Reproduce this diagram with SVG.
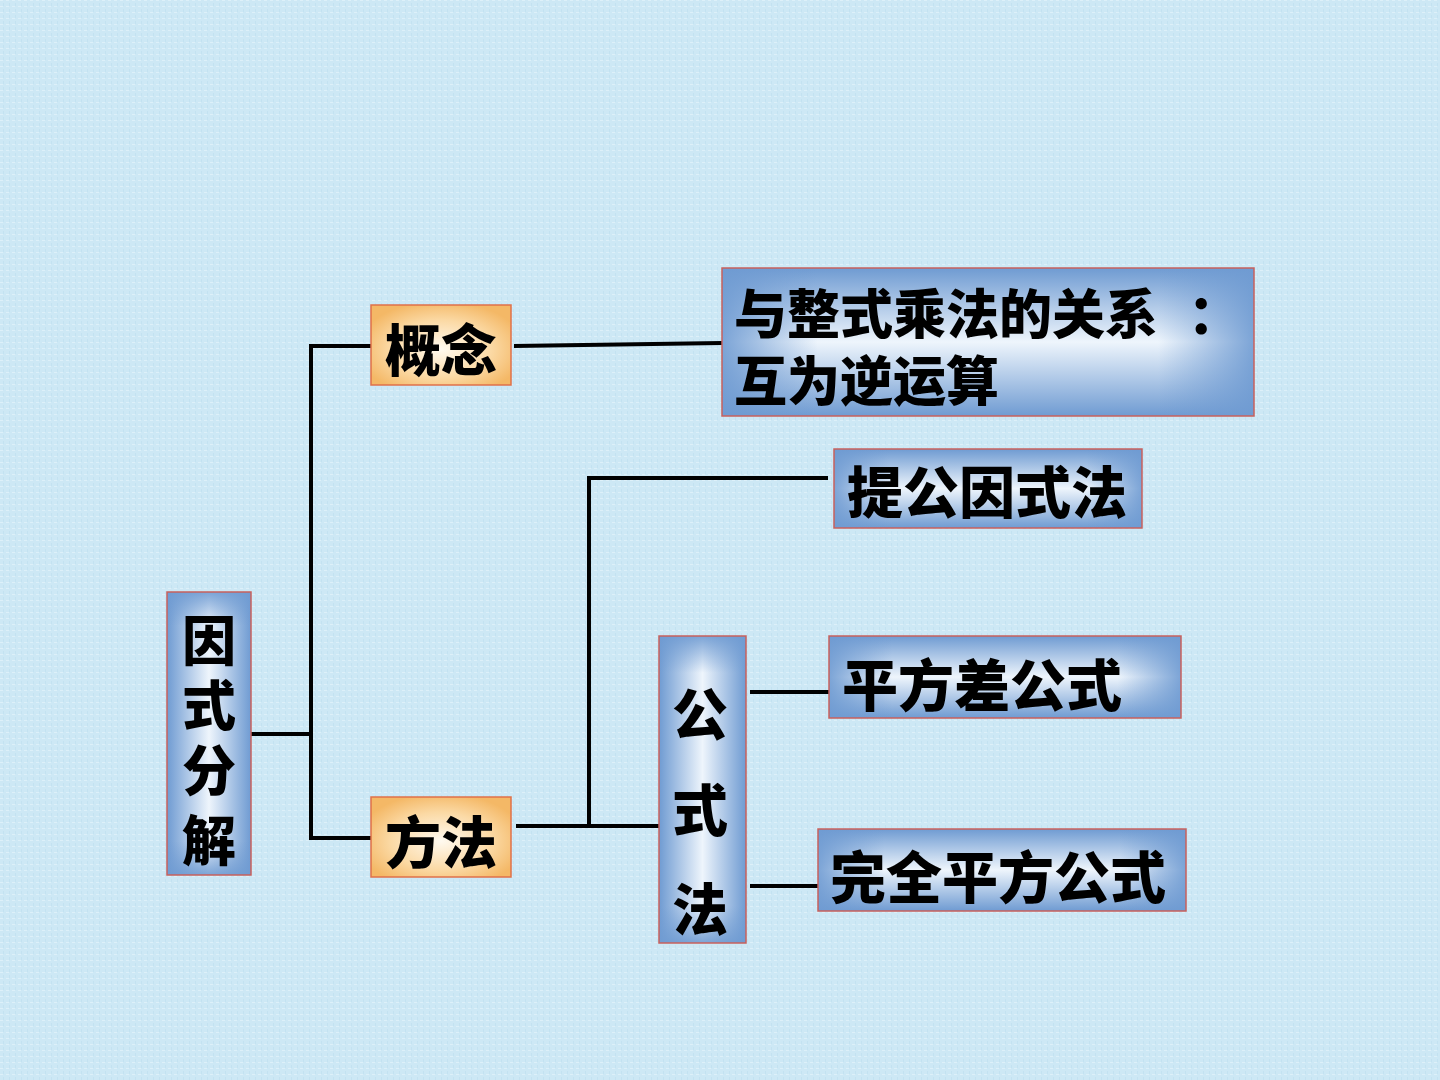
<svg xmlns="http://www.w3.org/2000/svg" width="1440" height="1080" viewBox="0 0 1440 1080">
<defs>
  <pattern id="tex" width="6" height="6" patternUnits="userSpaceOnUse">
    <rect width="6" height="6" fill="#cde8f5"/>
    <rect x="0" y="0" width="3" height="1" fill="#e4f4fb" opacity="0.7"/>
    <rect x="3" y="3" width="1" height="3" fill="#b9dcee" opacity="0.5"/>
  </pattern>
  <linearGradient id="bv" x1="0" y1="0" x2="0" y2="1">
    <stop offset="0" stop-color="#6f9bd2"/>
    <stop offset="0.5" stop-color="#eef5fc"/>
    <stop offset="1" stop-color="#6f9bd2"/>
  </linearGradient>
  <linearGradient id="bh" x1="0" y1="0" x2="1" y2="0">
    <stop offset="0" stop-color="#6f9bd2" stop-opacity="0.9"/>
    <stop offset="0.18" stop-color="#6f9bd2" stop-opacity="0"/>
    <stop offset="0.82" stop-color="#6f9bd2" stop-opacity="0"/>
    <stop offset="1" stop-color="#6f9bd2" stop-opacity="0.9"/>
  </linearGradient>
  <linearGradient id="vv" x1="0" y1="0" x2="1" y2="0">
    <stop offset="0" stop-color="#6f9bd2"/>
    <stop offset="0.5" stop-color="#eef5fc"/>
    <stop offset="1" stop-color="#6f9bd2"/>
  </linearGradient>
  <linearGradient id="vh" x1="0" y1="0" x2="0" y2="1">
    <stop offset="0" stop-color="#6f9bd2" stop-opacity="0.9"/>
    <stop offset="0.12" stop-color="#6f9bd2" stop-opacity="0"/>
    <stop offset="0.88" stop-color="#6f9bd2" stop-opacity="0"/>
    <stop offset="1" stop-color="#6f9bd2" stop-opacity="0.9"/>
  </linearGradient>
  <radialGradient id="og" cx="0.5" cy="0.55" r="0.6">
    <stop offset="0" stop-color="#fffaf0"/>
    <stop offset="0.6" stop-color="#fbd9a4"/>
    <stop offset="1" stop-color="#f4b866"/>
  </radialGradient>
</defs>
<style>
  .t{font-family:"Noto Sans CJK SC","Noto Sans CJK TC",sans-serif;font-weight:900;fill:#000;dominant-baseline:central}
  .c{text-anchor:middle}
  .bb{stroke:#c8605c;stroke-width:1.5}
  .ob{stroke:#e0704a;stroke-width:1.5}
  .ln{stroke:#000;stroke-width:4;fill:none}
</style>
<rect width="1440" height="1080" fill="url(#tex)"/>

<g id="connectors">
  <line class="ln" x1="251" y1="734" x2="311" y2="734"/>
  <polyline class="ln" points="371,346 311,346 311,838 371,838"/>
  <line class="ln" x1="514" y1="346" x2="722" y2="343"/>
  <line class="ln" x1="516" y1="826" x2="659" y2="826"/>
  <polyline class="ln" points="589,826 589,478 828,478"/>
  <line class="ln" x1="750" y1="692" x2="829" y2="692"/>
  <line class="ln" x1="750" y1="886" x2="818" y2="886"/>
</g>

<g id="node-yinshifenjie">
  <rect x="167" y="592" width="84" height="283" fill="url(#vv)"/>
  <rect x="167" y="592" width="84" height="283" fill="url(#vh)" class="bb"/>
  <text class="t c" font-size="54"><tspan x="209" y="637">因</tspan><tspan x="209" y="702">式</tspan><tspan x="209" y="767">分</tspan><tspan x="209" y="837">解</tspan></text>
</g>

<g id="node-gainian">
  <rect x="371" y="305" width="140" height="80" fill="url(#og)" class="ob"/>
  <text class="t c" x="441" y="346" font-size="56">概念</text>
</g>

<g id="node-fangfa">
  <rect x="371" y="797" width="140" height="80" fill="url(#og)" class="ob"/>
  <text class="t c" x="441" y="838" font-size="56">方法</text>
</g>

<g id="node-guanxi">
  <rect x="722" y="268" width="532" height="148" fill="url(#bv)"/>
  <rect x="722" y="268" width="532" height="148" fill="url(#bh)" class="bb"/>
  <text class="t" x="734" y="311" font-size="53">与整式乘法的关系<tspan x="1188">：</tspan></text>
  <text class="t" x="734" y="378" font-size="53">互为逆运算</text>
</g>

<g id="node-tigongyinshi">
  <rect x="834" y="449" width="308" height="79" fill="url(#bv)"/>
  <rect x="834" y="449" width="308" height="79" fill="url(#bh)" class="bb"/>
  <text class="t" x="847" y="488" font-size="56">提公因式法</text>
</g>

<g id="node-gongshifa">
  <rect x="659" y="636" width="87" height="307" fill="url(#vv)"/>
  <rect x="659" y="636" width="87" height="307" fill="url(#vh)" class="bb"/>
  <text class="t c" font-size="56"><tspan x="700" y="710">公</tspan><tspan x="700" y="806">式</tspan><tspan x="700" y="905">法</tspan></text>
</g>

<g id="node-pingfangcha">
  <rect x="829" y="636" width="352" height="82" fill="url(#bv)"/>
  <rect x="829" y="636" width="352" height="82" fill="url(#bh)" class="bb"/>
  <text class="t" x="842" y="681" font-size="56">平方差公式</text>
</g>

<g id="node-wanquanpingfang">
  <rect x="818" y="829" width="368" height="82" fill="url(#bv)"/>
  <rect x="818" y="829" width="368" height="82" fill="url(#bh)" class="bb"/>
  <text class="t" x="830" y="873" font-size="56">完全平方公式</text>
</g>
</svg>
